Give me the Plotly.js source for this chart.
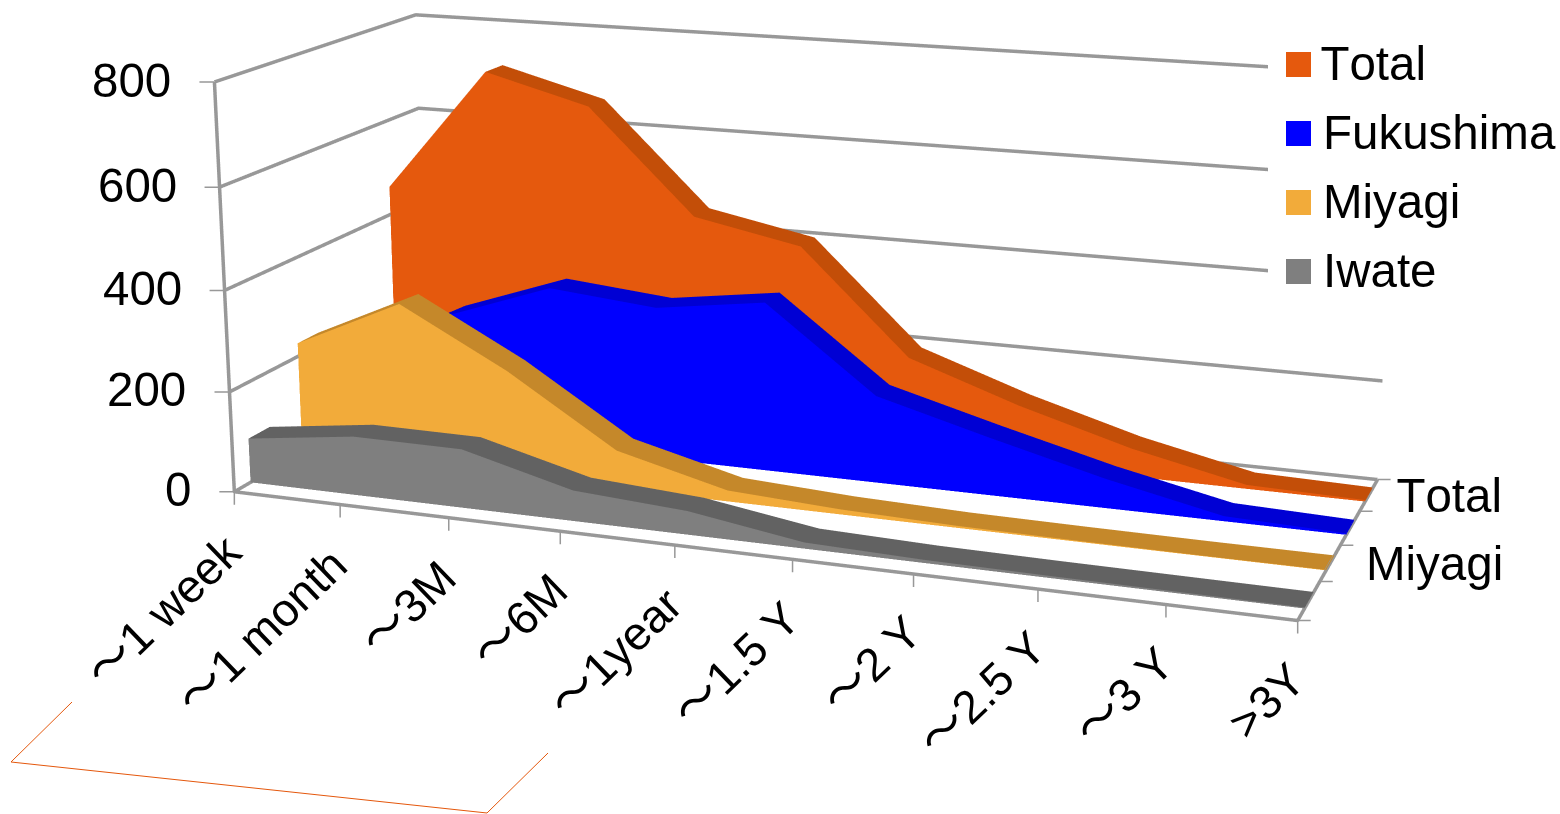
<!DOCTYPE html>
<html>
<head>
<meta charset="utf-8">
<title>Evacuation-related deaths by period</title>
<script src="https://cdn.plot.ly/plotly-3.0.1.min.js"></script>
<style>
  html, body { margin: 0; padding: 0; background: #fff; overflow: hidden; }
  #frame { position: relative; width: 1560px; height: 814px; overflow: hidden; }
  #chart { position: absolute; left: 0; top: -967px; width: 1596px; height: 2510px; }
  #chart text { font-kerning: none; }
</style>
</head>
<body>
<div id="frame"><div id="chart"></div></div>
<script>
// Chart values
const categories = ['～1 week', '～1 month', '～3M', '～6M', '～1year', '～1.5 Y', '～2 Y', '～2.5 Y', '～3 Y', '>3Y'];
const iwate     = [89, 117, 116, 60, 46, 12, 6, 4, 3, 2];
const miyagi    = [227, 328, 214, 77, 22, 10, 4, 2, 1, 1];
const fukushima = [143, 253, 330, 310, 341, 175, 115, 58, 10, 3];
const total     = [459, 717, 660, 449, 406, 197, 121, 57, 8, 3];
const valueTicks = [0, 200, 400, 600, 800];
const depthLabels = [[3.5, 'Total', 28], [1.5, 'Miyagi', 34]];

// Series run front to back; each one is a slab inside its own depth slot
const slabs = [
  {name: 'Iwate',     values: iwate,     face: '#7F7F7F', top: '#626262'},
  {name: 'Miyagi',    values: miyagi,    face: '#F2AB3A', top: '#C5882A'},
  {name: 'Fukushima', values: fukushima, face: '#0000FF', top: '#0000D4'},
  {name: 'Total',     values: total,     face: '#E5590D', top: '#C34E08'}
];
const legendOrder = ['Total', 'Fukushima', 'Miyagi', 'Iwate'];
const slabInset = 0.3;
const fontFamily = '"Liberation Sans", "Noto Sans CJK JP", Arial, sans-serif';
const gridColor = '#989898';

// Builds the closed solid for a series: front face, top strip and right end
function slabTrace(s, slot) {
  const y0 = slot + slabInset, y1 = slot + 1 - slabInset;
  const x = [], y = [], z = [], ii = [], jj = [], kk = [], fc = [];
  const n = s.values.length;
  s.values.forEach((v, c) => {
    x.push(c, c, c, c);
    y.push(y0, y0, y1, y1);
    z.push(0, v, 0, v);
  });
  const tri = (a, b, c, col) => { ii.push(a); jj.push(b); kk.push(c); fc.push(col); };
  for (let c = 0; c < n - 1; c++) {
    const p = 4 * c, q = 4 * (c + 1);
    tri(p, q, p + 1, s.face); tri(q, q + 1, p + 1, s.face);          // front
    tri(p + 1, q + 1, p + 3, s.top); tri(q + 1, q + 3, p + 3, s.top); // top
  }
  const e = 4 * (n - 1);
  tri(e, e + 2, e + 1, s.top); tri(e + 2, e + 3, e + 1, s.top);       // right end
  return {
    type: 'mesh3d', name: s.name, x, y, z, i: ii, j: jj, k: kk, facecolor: fc,
    flatshading: true, hoverinfo: 'skip', showscale: false,
    lighting: {ambient: 1, diffuse: 0, specular: 0, roughness: 1, fresnel: 0}
  };
}

// Wall gridlines and the floor outline
const xEnd = categories.length - 1, yEnd = slabs.length, zTop = valueTicks[valueTicks.length - 1];
const lx = [], ly = [], lz = [];
const seg = pts => { pts.forEach(p => { lx.push(p[0]); ly.push(p[1]); lz.push(p[2]); }); lx.push(null); ly.push(null); lz.push(null); };
valueTicks.forEach(v => seg([[0, 0, v], [0, yEnd, v], [xEnd, yEnd, v]]));
seg([[0, 0, zTop], [0, 0, 0], [xEnd, 0, 0], [xEnd, yEnd, 0]]);

const frameLines = {
  type: 'scatter3d', mode: 'lines', x: lx, y: ly, z: lz, showlegend: false, hoverinfo: 'skip',
  connectgaps: false, line: {color: gridColor, width: 7}
};

// Screen-aligned tick stubs and labels anchored at data coordinates
const stub = (x, y, z, ax, ay) => ({x, y, z, text: ' ', font: {size: 1}, showarrow: true, arrowhead: 0, arrowwidth: 1.5,
  arrowcolor: gridColor, ax, ay, standoff: 0, startstandoff: 0, borderpad: 0, borderwidth: 0});
const label = (x, y, z, text, size, extra) => Object.assign({x, y, z, text, showarrow: false,
  font: {family: fontFamily, size, color: '#000'}}, extra);

const sceneNotes = [];
valueTicks.forEach(v => {
  sceneNotes.push(stub(0, 0, v, -15, 0));
  sceneNotes.push(label(0, 0, v, String(v), 47.5, {xanchor: 'right', yanchor: 'middle', xshift: -41, yshift: 2}));
});
categories.forEach((c, i) => {
  sceneNotes.push(stub(i, 0, 0, 0, 13));
  sceneNotes.push(label(i, 0, 0, c, 46.5, {xanchor: 'right', yanchor: 'top', textangle: -44, xshift: 20, yshift: -30}));
});
for (let d = 0; d <= yEnd; d++) sceneNotes.push(stub(xEnd, d, 0, 13, 0));
depthLabels.forEach(d => sceneNotes.push(label(xEnd, d[0], 0, d[1], 47.5, {xanchor: 'left', yanchor: 'middle', xshift: d[2]})));

// Page pixels to figure fractions for the legend block
const FW = 1596, FH = 2510, FTOP = 967;
const px = v => v / FW, py = v => 1 - (v + FTOP) / FH;

const paperNotes = [{
  xref: 'paper', yref: 'paper', x: px(1268), y: py(30), xanchor: 'left', yanchor: 'top', text: ' ', showarrow: false,
  width: 292, height: 270, bgcolor: '#fff', borderpad: 0, borderwidth: 0
}];
legendOrder.forEach((name, r) => {
  const s = slabs.find(q => q.name === name);
  const cy = 64.5 + 69 * r;
  paperNotes.push({xref: 'paper', yref: 'paper', x: px(1286), y: py(cy), xanchor: 'left', yanchor: 'middle',
    text: ' ', showarrow: false, width: 25, height: 25, bgcolor: s.face, borderpad: 0, borderwidth: 0});
  paperNotes.push({xref: 'paper', yref: 'paper', x: px(1323), y: py(cy - 1), xanchor: 'left', yanchor: 'middle',
    text: name, showarrow: false, font: {family: fontFamily, size: 47.5, color: '#000'}, borderpad: 0, borderwidth: 0});
});

const hiddenAxis = range => ({range, autorange: false, visible: false, showspikes: false, showgrid: false, zeroline: false});

const layout = {
  width: FW, height: FH, autosize: false,
  margin: {l: 0, r: 0, t: 0, b: 0, pad: 0},
  paper_bgcolor: '#fff', showlegend: false, dragmode: false,
  scene: {
    domain: {x: [0, 1], y: [0, 1]},
    aspectmode: 'manual', aspectratio: {x: 1, y: 0.4, z: 0.389},
    camera: {
      eye: {x: 0.912, y: -2.559, z: 0.695},
      center: {x: -0.011, y: -0.0015, z: -0.003},
      up: {x: 0, y: 0, z: 1},
      projection: {type: 'perspective'}
    },
    xaxis: hiddenAxis([0, xEnd]),
    yaxis: hiddenAxis([0, yEnd]),
    zaxis: hiddenAxis([0, zTop]),
    bgcolor: 'rgba(0,0,0,0)',
    annotations: sceneNotes,
    hovermode: false,
    dragmode: false
  },
  annotations: paperNotes,
  shapes: [{
    type: 'path', xref: 'paper', yref: 'paper',
    path: `M${px(72)},${py(702)} L${px(11)},${py(762)} L${px(487)},${py(813)} L${px(548)},${py(753)}`,
    line: {color: '#E4570C', width: 1}
  }]
};

const traces = [frameLines].concat(slabs.map(slabTrace));
Plotly.newPlot('chart', traces, layout, {displayModeBar: false, responsive: false});
</script>
</body>
</html>
